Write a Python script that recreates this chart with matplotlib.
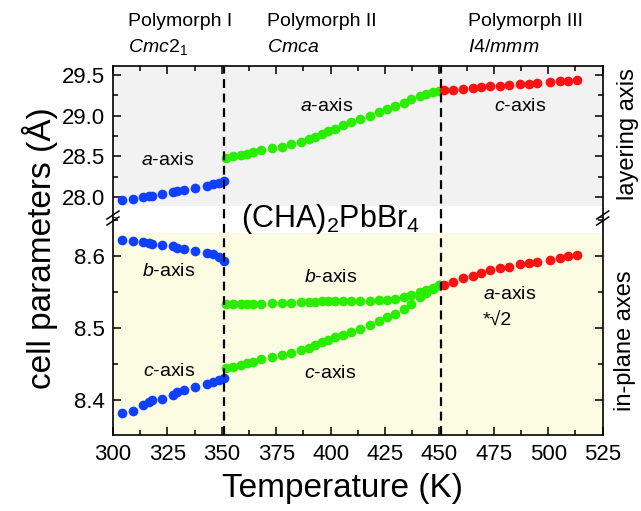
import numpy as np
import matplotlib.pyplot as plt
from matplotlib.ticker import MultipleLocator
from matplotlib.lines import Line2D

plt.rcParams['font.family'] = ['Liberation Sans', 'DejaVu Sans']
plt.rcParams['mathtext.fontset'] = 'custom'
plt.rcParams['mathtext.rm'] = 'Liberation Sans'
plt.rcParams['mathtext.it'] = 'Liberation Sans:italic'

# phase I (Cmc2_1)
T_I = [304, 309, 314, 316.5, 318, 322.5, 327.5, 329.5, 332.5, 337.5, 343, 346, 348.5, 351]
a_I = [27.96, 27.975, 28.0, 28.01, 28.02, 28.04, 28.065, 28.08, 28.09, 28.11, 28.14, 28.16, 28.175, 28.2]
b_I = [8.622, 8.621, 8.619, 8.6176, 8.6167, 8.615, 8.614, 8.612, 8.61, 8.607, 8.6046, 8.603, 8.599, 8.5935]
c_I = [8.3824, 8.385, 8.393, 8.3977, 8.4, 8.402, 8.407, 8.4115, 8.414, 8.4185, 8.422, 8.4255, 8.428, 8.43]

# phase II (Cmca)
T_II = [352, 355, 359, 361.5, 364.5, 368, 373, 377.5, 382, 386.5, 390, 393, 396, 399,
        402, 405.5, 409.5, 413.5, 418, 422, 426, 429.5, 433.5, 437, 441, 444, 447, 450]
a_II = [28.48, 28.50, 28.52, 28.535, 28.55, 28.58, 28.60, 28.62, 28.65, 28.68, 28.71, 28.74, 28.77, 28.81,
        28.84, 28.88, 28.92, 28.96, 29.00, 29.04, 29.08, 29.12, 29.16, 29.20, 29.24, 29.27, 29.29, 29.305]
b_II = [8.533, 8.533, 8.533, 8.534, 8.534, 8.534, 8.535, 8.535, 8.535, 8.536, 8.536, 8.536, 8.537, 8.537,
        8.537, 8.537, 8.538, 8.538, 8.538, 8.539, 8.539, 8.541, 8.543, 8.546, 8.55, 8.553, 8.556, 8.56]
c_II = [8.444, 8.446, 8.449, 8.451, 8.453, 8.457, 8.46, 8.463, 8.466, 8.47, 8.473, 8.476, 8.48, 8.484,
        8.487, 8.49, 8.494, 8.499, 8.504, 8.51, 8.515, 8.52, 8.527, 8.533, 8.543, 8.549, 8.555, 8.56]

# phase III (I4/mmm)
T_III = [452, 456, 461, 465.5, 469, 473, 478, 482, 487, 491, 495, 501, 505.5, 509, 513]
c_III = [29.31, 29.32, 29.33, 29.34, 29.35, 29.36, 29.37, 29.38, 29.385, 29.395, 29.40, 29.41, 29.42, 29.43, 29.435]
a_III = [8.56, 8.564, 8.569, 8.573, 8.577, 8.581, 8.583, 8.585, 8.589, 8.591, 8.592, 8.595, 8.598, 8.600, 8.602]

blue, green, red = '#1040ff', '#2aee00', '#ff1111'
W, H = 641, 511
fx = lambda px: px / W
fy = lambda py: 1 - py / H

fig = plt.figure(figsize=(6.41, 5.11), dpi=100)
ax_top = fig.add_axes([fx(113), fy(218), fx(602.7) - fx(113), fy(66) - fy(218)])
ax_bot = fig.add_axes([fx(113), fy(435.3), fx(602.7) - fx(113), fy(218) - fy(435.3)])

ax_top.set_ylim(27.744, 29.61)
ax_bot.set_ylim(8.351, 8.653)
for ax in (ax_top, ax_bot):
    ax.set_xlim(300, 525)
    ax.xaxis.set_major_locator(MultipleLocator(25))
    ax.xaxis.set_minor_locator(MultipleLocator(12.5))
    ax.tick_params(which='both', direction='in', right=True, labelsize=16, width=1.1, pad=6)
    ax.tick_params(which='major', length=6)
    ax.tick_params(which='minor', length=3.5)
    for s in ax.spines.values():
        s.set_linewidth(1.2)
    for x0 in (351, 450.6):
        ax.axvline(x0, color='black', lw=1.6, ls=(0, (4, 2.5)), zorder=5)

ax_top.axhspan(27.89, 30, color='#f2f2f2', zorder=0, lw=0)
ax_bot.axhspan(8.0, 8.632, color='#fcfce3', zorder=0, lw=0)

ax_top.spines['bottom'].set_visible(False)
ax_top.tick_params(which='both', top=True, bottom=False, labelbottom=False)
ax_top.yaxis.set_major_locator(MultipleLocator(0.5))
ax_top.yaxis.set_minor_locator(MultipleLocator(0.25))
ax_top.set_yticks([28.0, 28.5, 29.0, 29.5])
ax_top.set_yticklabels(['28.0', '28.5', '29.0', '29.5'])

ax_bot.spines['top'].set_visible(False)
ax_bot.tick_params(which='both', top=False)
ax_bot.yaxis.set_major_locator(MultipleLocator(0.1))
ax_bot.yaxis.set_minor_locator(MultipleLocator(0.05))
ax_bot.set_yticks([8.4, 8.5, 8.6])

ms = 7
ax_top.plot(T_I, a_I, 'o', color=blue, ms=ms, mew=0, zorder=3)
ax_top.plot(T_II, a_II, 'o', color=green, ms=ms, mew=0, zorder=3)
ax_top.plot(T_III, c_III, 'o', color=red, ms=ms, mew=0, zorder=3)
ax_bot.plot(T_I, b_I, 'o', color=blue, ms=ms, mew=0, zorder=3)
ax_bot.plot(T_I, c_I, 'o', color=blue, ms=ms, mew=0, zorder=3)
ax_bot.plot(T_II, b_II, 'o', color=green, ms=ms, mew=0, zorder=3)
ax_bot.plot(T_II, c_II, 'o', color=green, ms=ms, mew=0, zorder=3)
ax_bot.plot(T_III, a_III, 'o', color=red, ms=ms, mew=0, zorder=3)

fs = 14
ax_top.text(325.3, 28.45, r'$\mathit{a}$-axis', fontsize=fs, ha='center', va='center')
ax_top.text(398, 29.11, r'$\mathit{a}$-axis', fontsize=fs, ha='center', va='center')
ax_top.text(487, 29.11, r'$\mathit{c}$-axis', fontsize=fs, ha='center', va='center')
ax_bot.text(325.7, 8.578, r'$\mathit{b}$-axis', fontsize=fs, ha='center', va='center')
ax_bot.text(326, 8.439, r'$\mathit{c}$-axis', fontsize=fs, ha='center', va='center')
ax_bot.text(400, 8.571, r'$\mathit{b}$-axis', fontsize=fs, ha='center', va='center')
ax_bot.text(400, 8.4375, r'$\mathit{c}$-axis', fontsize=fs, ha='center', va='center')
ax_bot.text(482.4, 8.546, r'$\mathit{a}$-axis', fontsize=fs, ha='center', va='center')
ax_bot.text(470, 8.509, '*\u221a2', fontsize=fs, ha='left', va='center')

fig.text(fx(331), fy(219), r'(CHA)$_2$PbBr$_4$', fontsize=22, ha='center', va='center', zorder=10)

fig.text(fx(128), fy(22), 'Polymorph I', fontsize=fs, ha='left', va='center')
fig.text(fx(128), fy(47), r'$\mathit{Cmc}$2$_1$', fontsize=fs, ha='left', va='center')
fig.text(fx(267), fy(22), 'Polymorph II', fontsize=fs, ha='left', va='center')
fig.text(fx(267), fy(47), r'$\mathit{Cmca}$', fontsize=fs, ha='left', va='center')
fig.text(fx(468), fy(22), 'Polymorph III', fontsize=fs, ha='left', va='center')
fig.text(fx(468), fy(47), r'$\mathit{I4/mmm}$', fontsize=fs, ha='left', va='center')

fig.text(fx(628), fy(134), 'layering axis', fontsize=17, rotation=90, ha='center', va='center')
fig.text(fx(625), fy(341), 'in-plane axes', fontsize=17, rotation=90, ha='center', va='center')
fig.text(fx(40), fy(248), 'cell parameters (\u00c5)', fontsize=24, rotation=90, ha='center', va='center')
fig.text(fx(343), fy(488), 'Temperature (K)', fontsize=24, ha='center', va='center')

# break marks on both spines
for xp in (113, 602.7):
    for dy in (-3, 3):
        fig.add_artist(Line2D([fx(xp - 6), fx(xp + 6)], [fy(218 + dy + 4), fy(218 + dy - 4)],
                              color='black', lw=1.1))

fig.savefig('out.png', dpi=100)
